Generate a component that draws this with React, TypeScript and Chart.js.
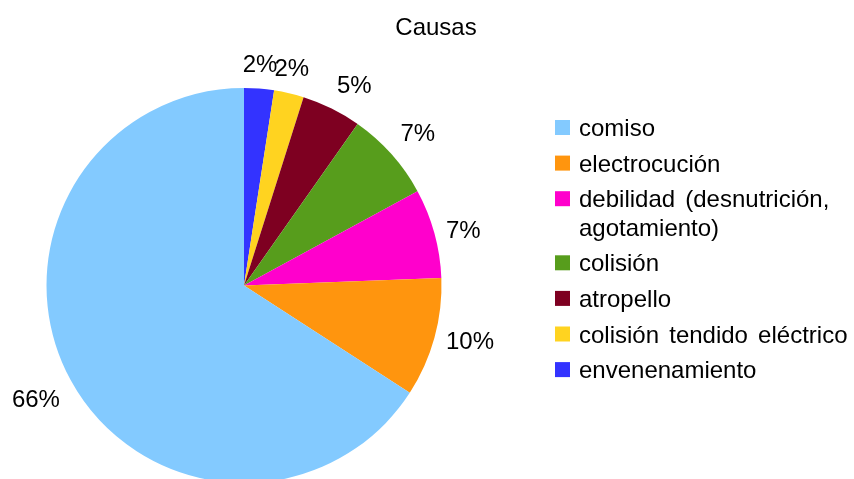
import React, { useEffect, useRef } from "react";
import { Chart, registerables } from "chart.js";

Chart.register(...registerables);

// Legend order (as shown in the reference legend)
const categories: (string | string[])[] = [
  "comiso",
  "electrocución",
  ["debilidad (desnutrición,", "agotamiento)"],
  "colisión",
  "atropello",
  "colisión tendido eléctrico",
  "envenenamiento",
];
const counts = [27, 4, 3, 3, 2, 1, 1];
const colors = ["#83CAFF", "#FF950E", "#FF00CC", "#579D1C", "#7E0021", "#FFD320", "#3333FF"];
const titleText = "Causas";

const FONT = '"Liberation Sans", Arial, sans-serif';

const overlayPlugin = {
  id: "overlay",
  afterDatasetsDraw(chart: any) {
    const ctx: CanvasRenderingContext2D = chart.ctx;
    const meta = chart.getDatasetMeta(0);
    const data: number[] = chart.data.datasets[0].data;
    const total = data.reduce((a, b) => a + b, 0);
    ctx.save();
    // percentage labels outside the slices (office-style alignment by angle)
    const fs = 24;
    ctx.font = `${fs}px ${FONT}`;
    ctx.fillStyle = "#000";
    ctx.textAlign = "left";
    ctx.textBaseline = "alphabetic";
    const asc = 0.905 * fs;
    const h = 1.117 * fs;
    meta.data.forEach((arc: any, i: number) => {
      const p = arc.getProps(["x", "y", "startAngle", "endAngle", "outerRadius"], true);
      const mid = (p.startAngle + p.endAngle) / 2;
      const txt = Math.round((data[i] / total) * 100) + "%";
      const w = ctx.measureText(txt).width;
      const d = p.outerRadius + 12;
      const ax = p.x + Math.cos(mid) * d;
      const ay = p.y + Math.sin(mid) * d;
      let deg = ((-mid * 180) / Math.PI) % 360;
      if (deg < 0) deg += 360;
      let left = ax;
      let top = ay - h / 2;
      if (deg <= 22.5 || deg >= 337.5) {
        left = ax; top = ay - h / 2;
      } else if (deg < 67.5) {
        left = ax; top = ay - h;
      } else if (deg < 112.5) {
        left = ax - w / 2; top = ay - h;
      } else if (deg <= 157.5) {
        left = ax - w; top = ay - h;
      } else if (deg <= 202.5) {
        left = ax - w; top = ay - h / 2;
      } else if (deg < 247.5) {
        left = ax - w; top = ay;
      } else if (deg < 292.5) {
        left = ax - w / 2; top = ay;
      } else {
        left = ax; top = ay;
      }
      ctx.fillText(txt, left, top + asc);
    });

    // title
    ctx.font = `24px ${FONT}`;
    ctx.textAlign = "center";
    ctx.fillText(titleText, 436, 35);

    // legend
    ctx.textAlign = "left";
    ctx.font = `24px ${FONT}`;
    try {
      (ctx as any).wordSpacing = "3.5px";
    } catch (e) {}
    let baseline = 136;
    const pitch = 35.6;
    const lineH = 28.5;
    categories.forEach((cat, i) => {
      const lines = Array.isArray(cat) ? cat : [cat];
      ctx.fillStyle = colors[i];
      ctx.fillRect(555, baseline - 8.5 - 7.5, 15, 15);
      ctx.fillStyle = "#000";
      lines.forEach((ln, j) => {
        ctx.fillText(ln, 579, baseline + j * lineH);
      });
      baseline += pitch + (lines.length - 1) * lineH;
    });
    ctx.restore();
  },
};

export default function App() {
  const ref = useRef<HTMLCanvasElement>(null);
  useEffect(() => {
    if (!ref.current) return;
    const labels = categories.map((c) => (Array.isArray(c) ? c.join(" ") : c)).reverse();
    const chart = new Chart(ref.current, {
      type: "pie",
      data: {
        labels,
        datasets: [
          {
            data: [...counts].reverse(),
            backgroundColor: [...colors].reverse(),
            borderWidth: 0,
          },
        ],
      },
      options: {
        responsive: false,
        animation: false,
        events: [],
        layout: { padding: { left: 46.5, top: 88, right: 412.5, bottom: 7 } },
        plugins: {
          legend: { display: false },
          title: { display: false },
          tooltip: { enabled: false },
        },
      },
      plugins: [overlayPlugin],
    });
    return () => chart.destroy();
  }, []);
  return (
    <div
      style={{
        position: "fixed",
        left: 0,
        top: 0,
        width: 854,
        height: 479,
        overflow: "hidden",
        background: "#fff",
      }}
    >
      <canvas ref={ref} width={854} height={490} style={{ display: "block", width: 854, height: 490 }} />
    </div>
  );
}
